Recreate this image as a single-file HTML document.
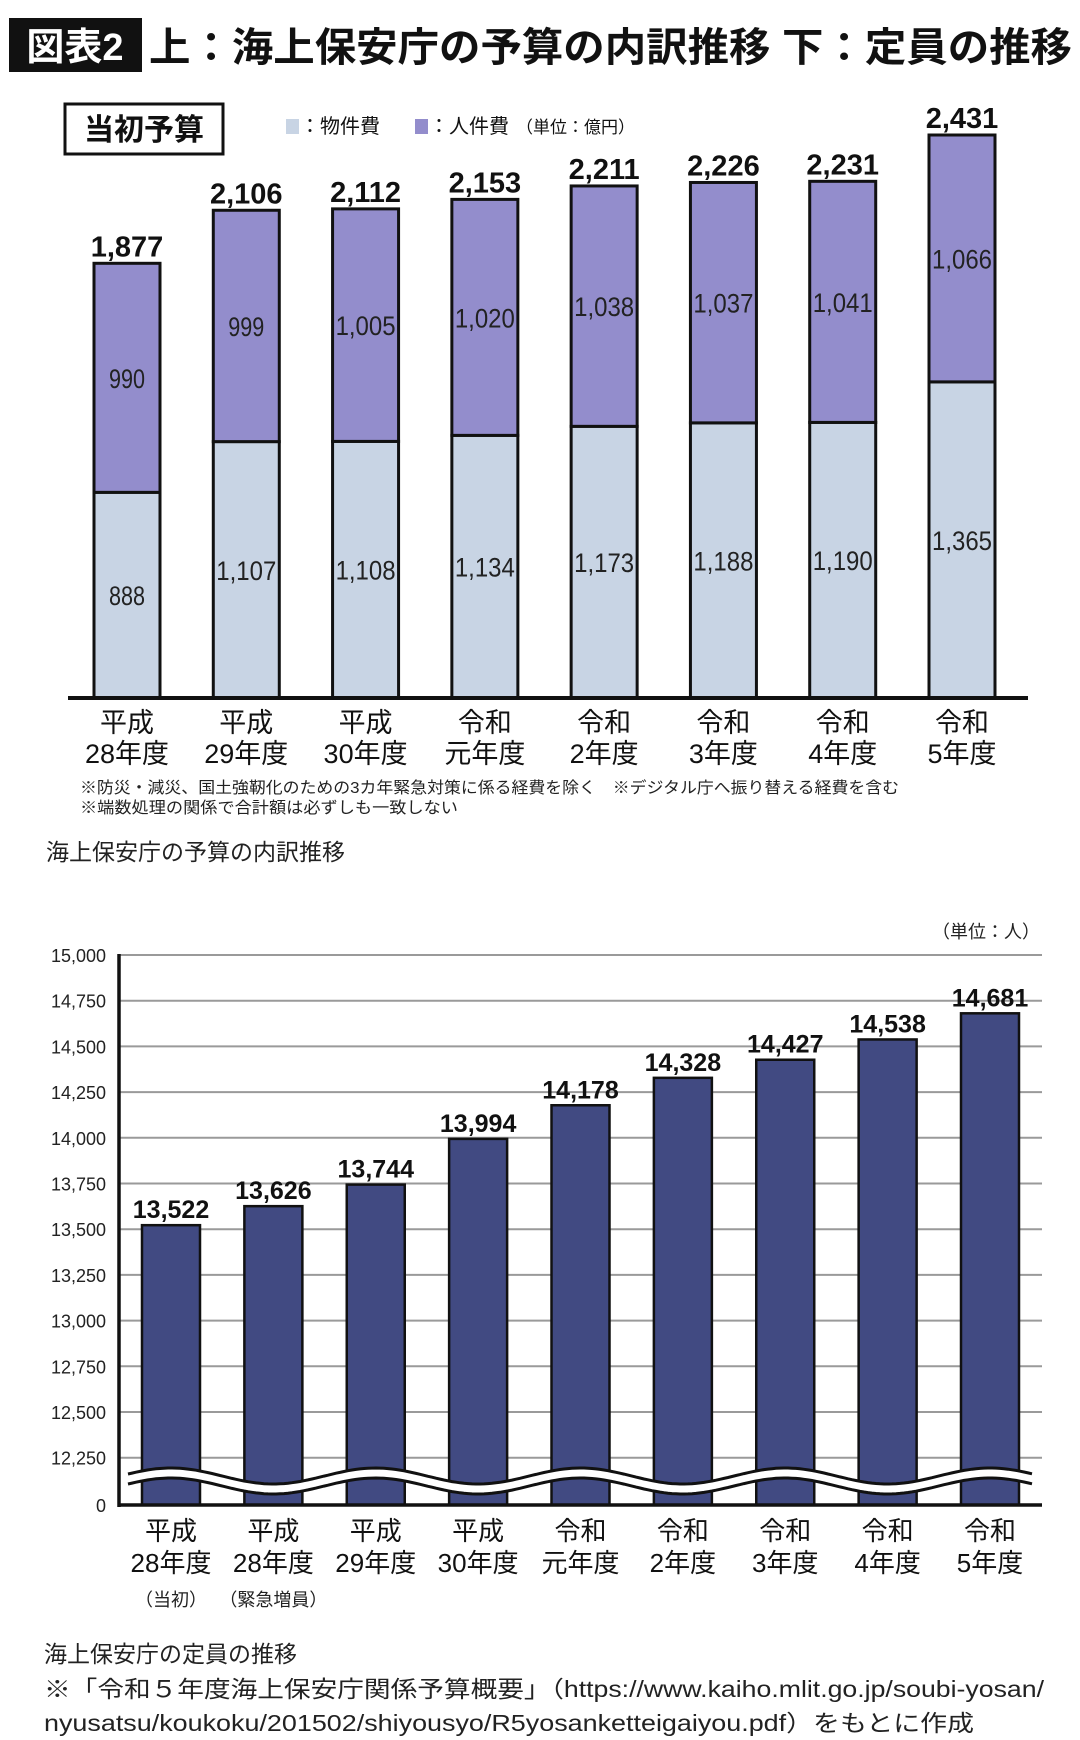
<!DOCTYPE html>
<html><head><meta charset="utf-8">
<style>
html,body{margin:0;padding:0;background:#fff;}
svg{display:block;}
text{font-family:"Liberation Sans","Noto Sans CJK JP",sans-serif;}
.num{font-family:"Liberation Sans Narrow","Liberation Sans","Noto Sans CJK JP",sans-serif;}
</style></head>
<body>
<svg id="root" width="1080" height="1740" viewBox="0 0 1080 1740" xmlns="http://www.w3.org/2000/svg">
  <rect x="9" y="18" width="133" height="54" fill="#111"/>
  <text x="75" y="60" text-anchor="middle" font-size="38" font-weight="bold" fill="#fff">図表2</text>
  <text x="149" y="61" font-size="40" font-weight="bold" fill="#111" textLength="923" lengthAdjust="spacingAndGlyphs">上：海上保安庁の予算の内訳推移 下：定員の推移</text>

  <rect x="65" y="104" width="158" height="50" fill="#fff" stroke="#111" stroke-width="3"/>
  <text x="144" y="140" text-anchor="middle" font-size="30" font-weight="bold" fill="#111">当初予算</text>
  <rect x="286" y="119" width="13" height="15" fill="#c8d4e4"/>
  <text x="300" y="133" font-size="20" fill="#111">：物件費</text>
  <rect x="415" y="119" width="13" height="15" fill="#938dcc"/>
  <text x="429" y="133" font-size="20" fill="#111">：人件費</text>
  <text x="516" y="133" font-size="17" fill="#111">（単位：億円）</text>

  <g id="top-chart"></g>

  <text x="80" y="793" font-size="16" fill="#222" textLength="819" lengthAdjust="spacingAndGlyphs">※防災・減災、国土強靭化のための3カ年緊急対策に係る経費を除く　※デジタル庁へ振り替える経費を含む</text>
  <text x="80" y="813" font-size="16" fill="#222" textLength="378" lengthAdjust="spacingAndGlyphs">※端数処理の関係で合計額は必ずしも一致しない</text>
  <text x="46" y="860" font-size="23" fill="#222">海上保安庁の予算の内訳推移</text>

  <text x="1040" y="938" text-anchor="end" font-size="18" fill="#222">（単位：人）</text>
  <g id="bottom-chart"></g>

  <text x="44" y="1662" font-size="23" fill="#222">海上保安庁の定員の推移</text>
  <text x="44" y="1697" font-size="23" fill="#222" textLength="1000" lengthAdjust="spacingAndGlyphs">※「令和５年度海上保安庁関係予算概要」（https://www.kaiho.mlit.go.jp/soubi-yosan/</text>
  <text x="44" y="1731" font-size="23" fill="#222" textLength="930" lengthAdjust="spacingAndGlyphs">nyusatsu/koukoku/201502/shiyousyo/R5yosanketteigaiyou.pdf）をもとに作成</text>
</svg>
<script>
const budgetYearTop = ["平成","平成","平成","令和","令和","令和","令和","令和"];
const budgetYearBottom = ["28年度","29年度","30年度","元年度","2年度","3年度","4年度","5年度"];
const materialCost = [888,1107,1108,1134,1173,1188,1190,1365];
const personnelCost = [990,999,1005,1020,1038,1037,1041,1066];
const budgetTotal = [1877,2106,2112,2153,2211,2226,2231,2431];

const staffYearTop = ["平成","平成","平成","平成","令和","令和","令和","令和","令和"];
const staffYearBottom = ["28年度","28年度","29年度","30年度","元年度","2年度","3年度","4年度","5年度"];
const staffYearNote = ["（当初）","（緊急増員）","","","","","","",""];
const staffCount = [13522,13626,13744,13994,14178,14328,14427,14538,14681];
const staffTicks = [12250,12500,12750,13000,13250,13500,13750,14000,14250,14500,14750,15000];
const staffTickLabels = ["12,250","12,500","12,750","13,000","13,250","13,500","13,750","14,000","14,250","14,500","14,750","15,000"];

const NS = "http://www.w3.org/2000/svg";
function mk(tag, attrs, parent, txt){
  const e = document.createElementNS(NS, tag);
  for (const k in attrs) e.setAttribute(k, attrs[k]);
  if (txt !== undefined) e.textContent = txt;
  parent.appendChild(e);
  return e;
}
function fmt(v){ return v.toLocaleString("en-US"); }

// ---- top stacked chart ----
(function(){
  const g = document.getElementById("top-chart");
  const base = 698, maxV = 2431, maxY = 135;
  const y = v => base - v * (base - maxY) / maxV;
  const x0 = 127, step = (962 - 127) / 7, bw = 66;
  const xc = i => x0 + i * step;
  for (let i = 0; i < budgetTotal.length; i++) {
    const cx = xc(i);
    const m = materialCost[i], p = personnelCost[i], t = budgetTotal[i];
    const yM = y(m), yT = y(t);
    const r1 = mk("rect", {x: cx - bw/2, y: yM, width: bw, height: base - yM, fill: "#c8d4e4", stroke: "#111", "stroke-width": 3}, g);
    
    
    const r2 = mk("rect", {x: cx - bw/2, y: yT, width: bw, height: yM - yT, fill: "#938dcc", stroke: "#111", "stroke-width": 3}, g);
    
    
    const sm = fmt(m), sp = fmt(p);
    const l1 = mk("text", {x: cx, y: (yM + base)/2 + 10, "text-anchor": "middle", "font-size": 27, fill: "#222", class: "num", textLength: sm.length * 12, lengthAdjust: "spacingAndGlyphs"}, g, sm);
    
    
    const l2 = mk("text", {x: cx, y: (yT + yM)/2 + 10, "text-anchor": "middle", "font-size": 27, fill: "#222", class: "num", textLength: sp.length * 12, lengthAdjust: "spacingAndGlyphs"}, g, sp);
    
    
    const l3 = mk("text", {x: cx, y: yT - 7, "text-anchor": "middle", "font-size": 29, "font-weight": "bold", fill: "#111", class: "num"}, g, fmt(t));
    
    
    const c1 = mk("text", {x: cx, y: 732, "text-anchor": "middle", "font-size": 27, fill: "#111"}, g, budgetYearTop[i]);
    
    
    const c2 = mk("text", {x: cx, y: 763, "text-anchor": "middle", "font-size": 27, fill: "#111"}, g, budgetYearBottom[i]);
    
    
  }
  const ax = mk("line", {x1: 68, x2: 1028, y1: base, y2: base, stroke: "#111", "stroke-width": 4}, g);
  
  
})();

// ---- bottom staff chart ----
(function(){
  const g = document.getElementById("bottom-chart");
  const yTop = 955, per250 = 45.7, base = 1505;
  const y = v => yTop + (15000 - v) / 250 * per250;
  const left = 119, right = 1042;
  for (let k = 0; k < staffTicks.length; k++) {
    const ty = y(staffTicks[k]);
    const gl = mk("line", {x1: left, x2: right, y1: ty, y2: ty, stroke: "#9a9a9a", "stroke-width": 2}, g);
    
    
    const tl = mk("text", {x: 106, y: ty + 7, "text-anchor": "end", "font-size": 18, fill: "#222", class: "num"}, g, staffTickLabels[k]);
    
    
  }
  const zl = mk("text", {x: 106, y: base + 7, "text-anchor": "end", "font-size": 18, fill: "#222", class: "num"}, g, "0");
  
  

  const x0 = 171, step = (990 - 171) / 8, bw = 58;
  for (let i = 0; i < staffCount.length; i++) {
    const cx = x0 + i * step, v = staffCount[i], by = y(v);
    const b = mk("rect", {x: cx - bw/2, y: by, width: bw, height: base - by, fill: "#414a82", stroke: "#111", "stroke-width": 2.5}, g);
    
    
    const vl = mk("text", {x: cx, y: by - 7, "text-anchor": "middle", "font-size": 25, "font-weight": "bold", fill: "#111", class: "num"}, g, fmt(v));
    
    
    const c1 = mk("text", {x: cx, y: 1540, "text-anchor": "middle", "font-size": 26, fill: "#111"}, g, staffYearTop[i]);
    
    
    const c2 = mk("text", {x: cx, y: 1572, "text-anchor": "middle", "font-size": 26, fill: "#111"}, g, staffYearBottom[i]);
    
    
    if (staffYearNote[i]) {
      const c3 = mk("text", {x: cx, y: 1606, "text-anchor": "middle", "font-size": 18, fill: "#222"}, g, staffYearNote[i]);
      
      
    }
  }
  // axis break waves
  const wx0 = 128, wx1 = 1032, amp = 8, per = 2 * step, phase = x0;
  function wave(off){
    let s = "";
    for (let xx = wx0; xx <= wx1; xx += 4) {
      const yy = 1476 + off - amp * Math.cos(2 * Math.PI * (xx - phase) / per);
      s += (xx === wx0 ? "M" : "L") + xx + "," + yy.toFixed(1);
    }
    return s;
  }
  const w0 = mk("path", {d: wave(5), fill: "none", stroke: "#fff", "stroke-width": 10}, g);
  
  
  const w1 = mk("path", {d: wave(0), fill: "none", stroke: "#111", "stroke-width": 3}, g);
  
  
  const w2 = mk("path", {d: wave(10), fill: "none", stroke: "#111", "stroke-width": 3}, g);
  
  

  const ya = mk("line", {x1: left, x2: left, y1: yTop - 1, y2: base + 2, stroke: "#111", "stroke-width": 3.5}, g);
  
  
  const xa = mk("line", {x1: left - 1, x2: right, y1: base, y2: base, stroke: "#111", "stroke-width": 3.5}, g);
  
  
})();
</script>
</body></html>
